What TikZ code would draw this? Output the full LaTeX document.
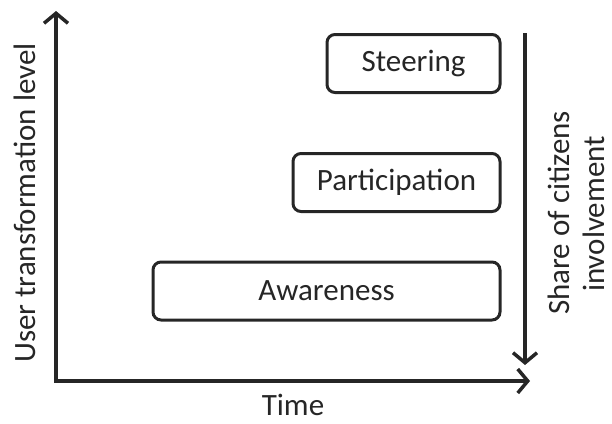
\documentclass[tikz,border=0pt]{standalone}
\usepackage{fontspec}
\setmainfont{Carlito}
\usepackage{xcolor}
\usetikzlibrary{arrows.meta,positioning}
\definecolor{inkgray}{RGB}{38,38,38}

\begin{document}
\begin{tikzpicture}[x=1pt, y=-1pt,
  every node/.style={text=inkgray, font=\fontsize{31}{37}\selectfont},
  stagebox/.style={draw=inkgray, line width=3pt, rounded corners=8pt, inner sep=0pt, minimum height=58pt, anchor=east},
  axisline/.style={line width=3.5pt, color=inkgray, line join=miter}]
\useasboundingbox (0,0) rectangle (612,423);

% axes
\coordinate (origin) at (56,381);
\coordinate (ytop) at (56,11);
\coordinate (xend) at (530,381);
\draw[axisline, {Straight Barb[length=10pt,width=24pt]}-{Straight Barb[length=10pt,width=24pt]}] (ytop) -- (origin) -- (xend);

% share arrow
\coordinate (stop) at (525,33);
\coordinate (sbot) at (525,365);
\draw[axisline, -{Straight Barb[length=10pt,width=24pt]}] (stop) -- (sbot);

% stages
\node[stagebox, minimum width=173pt] (steering) at (501.5,63.5) {Steering};
\node[stagebox, minimum width=207pt] (participation) at (501.5,182.5) {Participation};
\node[stagebox, minimum width=347pt] (awareness) at (501.5,291) {Awareness};

% labels
\node[rotate=90, anchor=base] (ylabel) at (35,203) {User transformation level};
\node[anchor=base] (xlabel) at (293,415) {Time};
\node[rotate=90, anchor=base] (slabel) at (569,213) {Share of citizens};
\node[rotate=90, anchor=base] (slabel2) at (604,214) {involvement};
\end{tikzpicture}
\end{document}
